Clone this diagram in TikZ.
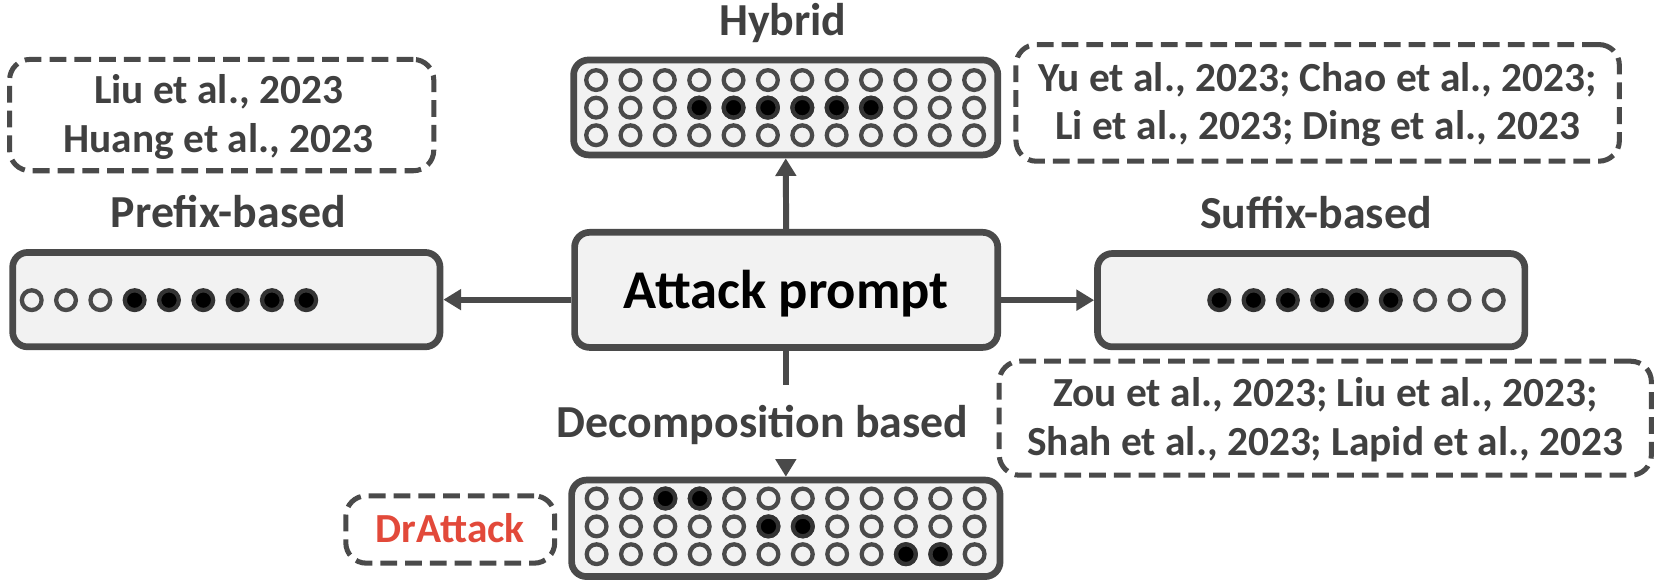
\documentclass[tikz,border=0pt]{standalone}
\usepackage{fontspec}
\setmainfont{Carlito}
\usetikzlibrary{arrows.meta}
\definecolor{txt}{HTML}{404040}
\definecolor{ln}{HTML}{4A4A4A}
\definecolor{bx}{HTML}{F2F2F2}
\definecolor{ring}{HTML}{333333}
\definecolor{drred}{HTML}{E2493A}
\begin{document}
\begin{tikzpicture}[x=0.02cm,y=-0.02cm,
  solidbox/.style={draw=ln, line width=3.6pt, fill=bx, rounded corners=8pt, inner sep=0pt},
  citebox/.style={draw=ln, line width=2.7pt, dash pattern=on 9pt off 4.3pt, rounded corners=11pt, inner sep=0pt},
  labeltext/.style={text=txt, font=\fontsize{24.6pt}{29pt}\selectfont\bfseries, inner sep=0pt, anchor=base},
  citetext/.style={text=txt, font=\fontsize{22.2pt}{26pt}\selectfont\bfseries, inner sep=0pt, anchor=base},
  conn/.style={draw=ln, line width=3.2pt},
  arr/.style={conn, -{Triangle[width=10.8pt,length=9.5pt]}},
  opendot/.style={draw=ln, line width=2.3pt, fill=bx},
  fulldot/.style={draw=ring, line width=2.3pt, fill=black},
]
\useasboundingbox (0,0) rectangle (1566,553.4);

% main boxes
\node[solidbox, minimum width=7.98cm, minimum height=2.17cm, text height=0.70cm, text depth=0pt,
      font=\fontsize{29.3pt}{35pt}\selectfont\bfseries] (attack) at (741.2,273.3) {Attack prompt};
\node[solidbox, minimum width=8.0cm, minimum height=1.79cm] (hybrid) at (740.8,101.3) {};
\node[solidbox, minimum width=8.06cm, minimum height=1.78cm] (prefix) at (213.4,282.5) {};
\node[solidbox, minimum width=8.06cm, minimum height=1.76cm] (suffix) at (1236.2,283) {};
\node[solidbox, minimum width=8.08cm, minimum height=1.82cm] (decomp) at (740.9,498.1) {};

% labels
\node[labeltext] (hyblab) at (738,33) {Hybrid};
\node[labeltext] (prelab) at (215.5,214.5) {Prefix-based};
\node[labeltext] (suflab) at (1240.8,215.5) {Suffix-based};
\node[labeltext, text height=0.986cm, text depth=0.434cm] (declab) at (719,412.3) {Decomposition based};

% citation boxes
\node[citebox, minimum width=8.0cm, minimum height=2.1cm] (liubox) at (209,108.5) {};
\node[citetext] (liu1) at (206,97.4) {Liu et al., 2023};
\node[citetext] (liu2) at (206,144) {Huang et al., 2023};

\node[citebox, minimum width=11.38cm, minimum height=2.2cm] (yubox) at (1242.3,97) {};
\node[citetext] (yu1) at (1242.3,86.4) {Yu et al., 2023; Chao et al., 2023;};
\node[citetext] (yu2) at (1242.3,131.4) {Li et al., 2023; Ding et al., 2023};

\node[citebox, minimum width=12.3cm, minimum height=2.15cm] (zoubox) at (1249.5,394.3) {};
\node[citetext] (zou1) at (1249.5,383.4) {Zou et al., 2023; Liu et al., 2023;};
\node[citetext] (zou2) at (1249.5,429) {Shah et al., 2023; Lapid et al., 2023};

\node[citebox, minimum width=3.94cm, minimum height=1.27cm] (drbox) at (424.5,499.2) {};
\node[citetext, text=drred] (drtext) at (424.5,511.3) {DrAttack};

% connectors
\draw[arr] (attack.north) -- (hybrid.south);
\draw[arr] (attack.west |- prefix.east) -- (prefix.east);
\draw[arr] (attack.east |- suffix.west) -- (suffix.west);
\draw[conn] (attack.south) -- (attack.south |- declab.north);
\draw[arr] (decomp.north |- declab.south) -- (decomp.north);

% prefix dots
\foreach \k in {0,1,2} \draw[opendot] ({29.9+32.35*\k},283) circle[radius=0.186cm];
\foreach \k in {3,...,8} \draw[fulldot] ({29.9+32.35*\k},283) circle[radius=0.186cm];
% suffix dots
\foreach \k in {0,...,5} \draw[fulldot] ({1149.5+32.35*\k},283) circle[radius=0.186cm];
\foreach \k in {6,7,8} \draw[opendot] ({1149.5+32.35*\k},283) circle[radius=0.186cm];
% hybrid dots
\foreach \yy in {75.5,101.5,127.5}
  \foreach \k in {0,...,11} \draw[opendot] ({562+32.4*\k},\yy) circle[radius=0.186cm];
\foreach \k in {3,...,8} \draw[fulldot] ({562+32.4*\k},101.5) circle[radius=0.186cm];
% decomposition dots
\foreach \yy in {470,496.3,522.5}
  \foreach \k in {0,...,11} \draw[opendot] ({562.5+32.4*\k},\yy) circle[radius=0.186cm];
\foreach \k/\yy in {2/470,3/470,5/496.3,6/496.3,9/522.5,10/522.5}
  \draw[fulldot] ({562.5+32.4*\k},\yy) circle[radius=0.186cm];
\end{tikzpicture}
\end{document}
